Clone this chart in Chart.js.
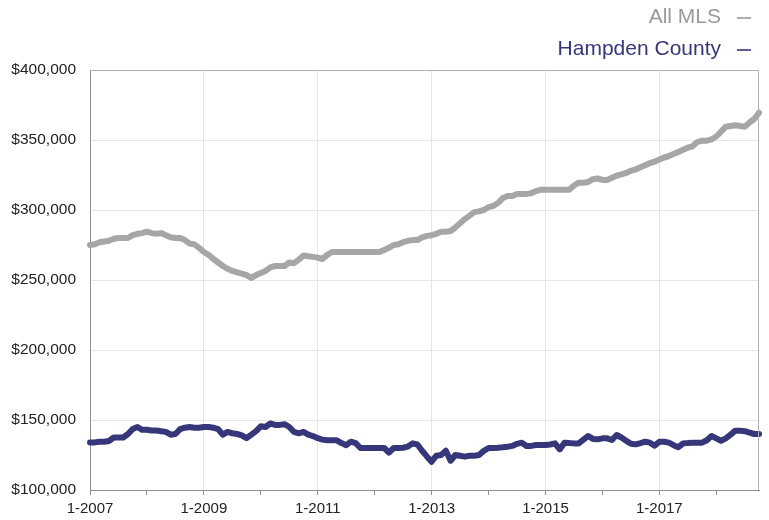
<!DOCTYPE html>
<html>
<head>
<meta charset="utf-8">
<script src="https://cdn.jsdelivr.net/npm/chart.js@4"></script>
<style>
  html, body { margin: 0; padding: 0; background: #fff; }
  #wrap { width: 769px; height: 520px; position: relative; }
</style>
</head>
<body>
<div id="wrap"><canvas id="c" width="769" height="520"></canvas></div>
<script>
// Monthly categories: 1-2007 .. 10-2018
const months = [];
for (let y = 2007; y <= 2018; y++) {
  for (let m = 1; m <= 12; m++) {
    if (y === 2018 && m > 10) break;
    months.push(m + '-' + y);
  }
}

const seriesNames = ['All MLS', 'Hampden County'];

const allMLS = [
  275000,275500,277000,277500,278000,279500,280000,280000,280000,282000,283000,283500,
  284500,283500,283000,283500,282000,280500,280000,280000,278500,276000,275500,273000,
  270000,268000,265000,262500,260000,258000,256500,255500,254500,253500,251500,253500,
  255000,256500,259000,260000,260000,260000,262500,262000,264500,267500,267000,266500,
  266000,265000,268000,270000,270000,270000,270000,270000,270000,270000,270000,270000,
  270000,270000,271500,273000,275000,275500,277000,278000,278500,278500,280500,281500,
  282000,283000,284500,284500,285000,287500,290500,293500,296000,298500,299000,300000,
  302000,303000,305000,308500,310000,310000,311500,311500,311500,312000,313500,314500,
  314500,314500,314500,314500,314500,314500,317500,319500,319500,320000,322000,322500,
  321500,321500,323000,324500,325500,326500,328000,329000,330500,332000,333500,334500,
  336000,337500,338500,340000,341500,343000,344500,345500,348500,349500,349500,350500,
  352500,356000,359500,360000,360500,360000,359500,362500,365000,369500
];

const hampden = [
  134000,134000,134500,134500,135000,137500,137500,137500,140000,143500,145000,143000,
  143000,142500,142500,142000,141500,139500,140000,143500,144500,145000,144500,144500,
  145000,145000,144500,143500,139500,141500,140500,140000,139000,137000,139500,142000,
  145500,145000,147500,146500,146500,147000,145000,141500,140500,141500,139500,138500,
  137000,136000,135500,135500,135500,133500,132000,134500,133500,130000,130000,130000,
  130000,130000,130000,126700,130000,130000,130200,131000,133300,132500,128000,124000,
  120200,124500,125000,128100,120900,125000,124500,123800,124500,124500,125000,128000,
  130000,130000,130200,130500,130900,131500,133000,133800,131400,131500,132100,132100,
  132100,132500,133300,129000,133800,133500,133300,133300,136000,138600,136500,136200,
  136900,136900,135700,139300,137500,135200,133000,132600,133500,134500,133800,131700,
  134500,134500,133800,132000,130500,133300,133500,133800,133800,133800,135500,138600,
  136900,135200,136900,139500,142400,142400,142000,141000,140000,140000
];

const yTicks = [100000, 150000, 200000, 250000, 300000, 350000, 400000];

const GRAY = '#a6a6a6';
const NAVY = '#36367a';
const AXIS = '#8f8f8f';
const GRID = '#e6e6e6';
const FONT = "'Liberation Sans', Arial, Helvetica, sans-serif";

const isJan = (i) => i % 12 === 0;
const isLabelled = (i) => i % 24 === 0;

const frameAndLegend = {
  id: 'frameAndLegend',
  afterDatasetsDraw(chart) {
    const { ctx, chartArea: a } = chart;
    ctx.save();
    ctx.strokeStyle = '#b0b0b0';
    ctx.lineWidth = 1;
    ctx.beginPath();
    ctx.moveTo(a.left, a.top + 0.5);
    ctx.lineTo(a.right - 0.5, a.top + 0.5);
    ctx.lineTo(a.right - 0.5, a.bottom);
    ctx.stroke();
    ctx.restore();
  },
  afterDraw(chart) {
    const { ctx } = chart;
    const items = [
      { text: seriesNames[0], color: '#9a9a9a', y: 17 },
      { text: seriesNames[1], color: NAVY, y: 49 }
    ];
    ctx.save();
    ctx.font = '21px ' + FONT;
    ctx.textAlign = 'right';
    ctx.textBaseline = 'middle';
    items.forEach(it => {
      ctx.fillStyle = it.color;
      ctx.fillText(it.text, 721, it.y);
      ctx.strokeStyle = it.color;
      ctx.lineWidth = 1.6;
      ctx.beginPath();
      ctx.moveTo(737, it.y + 1);
      ctx.lineTo(751, it.y + 1);
      ctx.stroke();
    });
    ctx.restore();
  }
};

new Chart(document.getElementById('c'), {
  type: 'line',
  data: {
    labels: months,
    datasets: [
      {
        label: seriesNames[0], data: allMLS,
        borderColor: GRAY, backgroundColor: GRAY,
        borderWidth: 6, pointRadius: 0, tension: 0,
        borderJoinStyle: 'round', borderCapStyle: 'round'
      },
      {
        label: seriesNames[1], data: hampden,
        borderColor: NAVY, backgroundColor: NAVY,
        borderWidth: 6, pointRadius: 0, tension: 0,
        borderJoinStyle: 'round', borderCapStyle: 'round'
      }
    ]
  },
  options: {
    responsive: false,
    animation: false,
    events: [],
    layout: { padding: { top: 70, right: 10, left: 0, bottom: 0 } },
    plugins: { legend: { display: false }, tooltip: { enabled: false } },
    scales: {
      x: {
        type: 'category',
        offset: false,
        afterFit(scale) { scale.height = 30; },
        border: { display: true, color: AXIS, width: 1 },
        grid: {
          display: true,
          drawOnChartArea: true,
          color: (c) => (c.index !== undefined && isLabelled(c.index) && c.index !== 0) ? GRID : 'rgba(0,0,0,0)',
          tickColor: (c) => (c.index !== undefined && isJan(c.index)) ? AXIS : 'rgba(0,0,0,0)',
          tickLength: 5,
          lineWidth: 1
        },
        ticks: {
          autoSkip: false,
          maxRotation: 0,
          minRotation: 0,
          padding: 5,
          color: '#222',
          font: { family: FONT, size: 15 },
          callback(value, index) {
            return isLabelled(index) ? months[index] : '';
          }
        }
      },
      y: {
        min: yTicks[0],
        max: yTicks[yTicks.length - 1],
        afterFit(scale) { scale.width = 90; },
        afterBuildTicks(scale) { scale.ticks = yTicks.map(v => ({ value: v })); },
        border: { display: true, color: AXIS, width: 1 },
        grid: { color: GRID, drawTicks: false, lineWidth: 1 },
        ticks: {
          padding: 14,
          color: '#222',
          font: { family: FONT, size: 15.5 },
          callback(v) { return '$' + Number(v).toLocaleString('en-US'); }
        }
      }
    }
  },
  plugins: [frameAndLegend]
});
</script>
</body>
</html>
